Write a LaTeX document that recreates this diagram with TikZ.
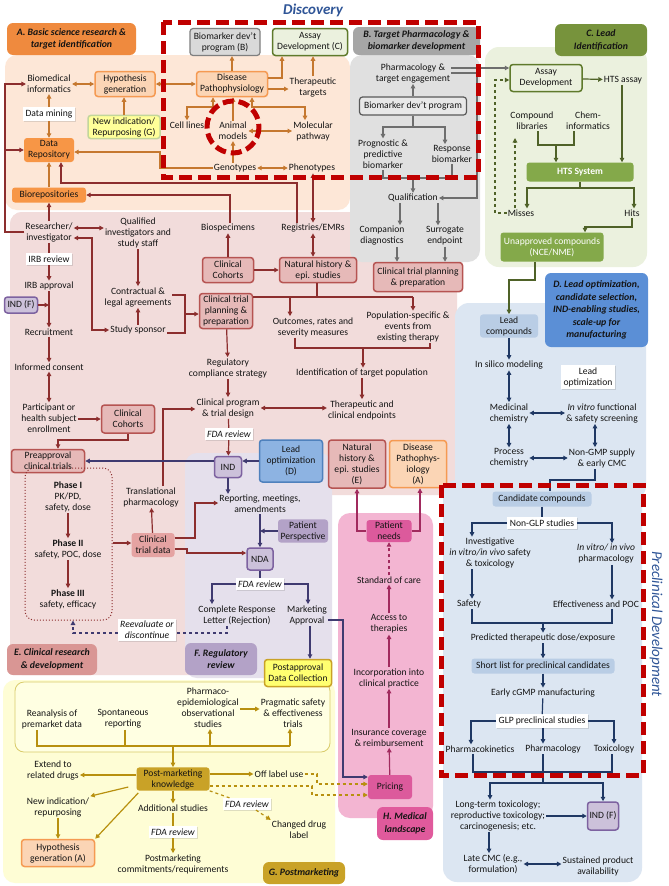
\documentclass[tikz,border=0pt]{standalone}
\usepackage{fontspec}
\setmainfont{Carlito}
\usetikzlibrary{arrows.meta,calc,shadows}
\definecolor{tx}{HTML}{141414}
\definecolor{bgA}{HTML}{FDE7D7}
\definecolor{bgB}{HTML}{E0E0E0}
\definecolor{bgC}{HTML}{EBF1DE}
\definecolor{bgD}{HTML}{DCE6F2}
\definecolor{bgE}{HTML}{F2DCDB}
\definecolor{bgF}{HTML}{E5E0EC}
\definecolor{bgG}{HTML}{FEFDD5}
\definecolor{bgGi}{HTML}{FFFFE2}
\definecolor{bgGd}{HTML}{D9CB6A}
\definecolor{bgH}{HTML}{F3B5D2}
\definecolor{oArr}{HTML}{C5782F}
\definecolor{rArr}{HTML}{8C2E2E}
\definecolor{gArr}{HTML}{6E6E6E}
\definecolor{grArr}{HTML}{4F6228}
\definecolor{nArr}{HTML}{1F3864}
\definecolor{pArr}{HTML}{3F3A70}
\definecolor{yArr}{HTML}{B8900F}
\definecolor{mArr}{HTML}{A12A5E}
\definecolor{oFill}{HTML}{FBD5B5}
\definecolor{oDraw}{HTML}{F59A52}
\definecolor{doFill}{HTML}{F79646}
\definecolor{yFill}{HTML}{FFFF99}
\definecolor{yDraw}{HTML}{C3D69B}
\definecolor{gFill}{HTML}{D9D9D9}
\definecolor{gDraw}{HTML}{7F7F7F}
\definecolor{gFillb}{HTML}{E8E8E8}
\definecolor{gDrawb}{HTML}{595959}
\definecolor{grFill}{HTML}{EBF1DE}
\definecolor{grDraw}{HTML}{5F7A2C}
\definecolor{gnFill}{HTML}{84A94A}
\definecolor{lbFill}{HTML}{B9CDE5}
\definecolor{indFill}{HTML}{CCC1DA}
\definecolor{indDraw}{HTML}{7D62A0}
\definecolor{eFill}{HTML}{E6B9B8}
\definecolor{eDraw}{HTML}{B65452}
\definecolor{ctdFill}{HTML}{E5A3A2}
\definecolor{dbFill}{HTML}{8DB3E2}
\definecolor{dbDraw}{HTML}{4F81BD}
\definecolor{ppFill}{HTML}{B3A2C7}
\definecolor{pyFill}{HTML}{FFFF70}
\definecolor{pyDraw}{HTML}{C9A227}
\definecolor{pmFill}{HTML}{C9A227}
\definecolor{hFill}{HTML}{DC5A9C}
\definecolor{labAc}{HTML}{EF8A3E}
\definecolor{labBc}{HTML}{A6A6A6}
\definecolor{labCc}{HTML}{77933C}
\definecolor{labDc}{HTML}{5B8FD6}
\definecolor{labEc}{HTML}{D99694}
\definecolor{labFc}{HTML}{B3A2C7}
\definecolor{labGc}{HTML}{C9A227}
\definecolor{labHc}{HTML}{E05A9C}
\definecolor{redd}{HTML}{C00000}
\definecolor{blueT}{HTML}{2F5597}
\newcommand{\myfs}{\fontsize{9.6}{11}\selectfont}
\newcommand{\myfsi}{\fontsize{9.6}{11}\selectfont\itshape}
\newcommand{\mylf}{\fontsize{9.8}{12.5}\selectfont\bfseries\itshape}
\begin{document}
\begin{tikzpicture}[x=1pt,y=-1pt,
  >={Triangle[length=4.5pt,width=4.5pt]},
  t/.style={align=center,font=\myfs,text=tx,inner sep=1pt},
  bx/.style={t,rounded corners=3pt,inner sep=2pt},
  obox/.style={bx,fill=oFill,draw=oDraw,line width=1.5pt},
  dobox/.style={bx,fill=doFill},
  wbox/.style={bx,fill=white,rounded corners=0pt,inner sep=2.5pt,drop shadow={opacity=0.25,shadow xshift=1pt,shadow yshift=-1pt}},
  ybox/.style={bx,fill=yFill,draw=yDraw,line width=1.5pt},
  gbox/.style={bx,fill=gFill,draw=gDraw,line width=1.2pt},
  gboxb/.style={bx,fill=gFillb,draw=gDrawb,line width=1.2pt},
  grbox/.style={bx,fill=grFill,draw=grDraw,line width=1.5pt},
  gnbox/.style={bx,fill=gnFill,text=white},
  lbbox/.style={bx,fill=lbFill},
  indbox/.style={bx,fill=indFill,draw=indDraw,line width=1.5pt},
  ebox/.style={bx,fill=eFill,draw=eDraw,line width=1.5pt},
  ctdbox/.style={bx,fill=ctdFill},
  dbbox/.style={bx,fill=dbFill,draw=dbDraw,line width=1.5pt},
  ppbox/.style={bx,fill=ppFill},
  pybox/.style={bx,fill=pyFill,draw=pyDraw,line width=1.5pt},
  pmbox/.style={bx,fill=pmFill},
  hbox/.style={bx,fill=hFill},
  lab/.style={align=center,font=\mylf,text=tx,rounded corners=6pt,inner sep=2pt},
  oa/.style={draw=oArr,line width=1.2pt,->}, oa2/.style={oa,<->}, ol/.style={draw=oArr,line width=1.2pt},
  ra/.style={draw=rArr,line width=1.2pt,->}, ra2/.style={ra,<->}, rl/.style={draw=rArr,line width=1.2pt},
  ga/.style={draw=gArr,line width=1.2pt,->}, gl/.style={draw=gArr,line width=1.2pt},
  gra/.style={draw=grArr,line width=1.2pt,->}, grl/.style={draw=grArr,line width=1.2pt},
  na/.style={draw=nArr,line width=1.2pt,->}, na2/.style={na,<->}, nl/.style={draw=nArr,line width=1.2pt},
  pa/.style={draw=pArr,line width=1.2pt,->}, pl/.style={draw=pArr,line width=1.2pt},
  ya/.style={draw=yArr,line width=1.2pt,->}, yl/.style={draw=yArr,line width=1.2pt},
  ma/.style={draw=mArr,line width=1.2pt,->},
  reddash/.style={draw=redd,line width=5pt,dash pattern=on 13pt off 6pt}
]
\useasboundingbox (0,0) rectangle (669,886);
\fill[white] (0,0) rectangle (669,886);
% ---------- panels ----------
\fill[bgE,rounded corners=12pt] (10,212) rectangle (457,495);
\fill[bgE,rounded corners=12pt] (10,212) rectangle (300,675);
\fill[bgF,rounded corners=12pt] (185,453) rectangle (332,678);
\fill[bgA,rounded corners=12pt] (5,55) rectangle (350,210);
\fill[bgB,rounded corners=12pt] (350,55) rectangle (480,262);
\fill[bgC,rounded corners=14pt] (485,47) rectangle (647,267);
\fill[bgD,rounded corners=14pt] (455,303) rectangle (646,500);
\fill[bgD,rounded corners=14pt] (443,480) rectangle (642,882);
\fill[bgG,rounded corners=12pt] (3,680) rectangle (335,883);
\draw[bgGd,fill=bgGi,line width=0.8pt,rounded corners=9pt] (15,682) rectangle (330,752);
\fill[bgH,rounded corners=12pt] (338,513) rectangle (433,818);
% ---------- panel labels ----------
\node[lab,fill=labAc,minimum width=129,minimum height=32] (labA) at (71.5,39) {A. Basic science research \&\\target identification};
\node[lab,fill=labBc,minimum width=127,minimum height=28] (labB) at (416.5,41) {B. Target Pharmacology \&\\biomarker development};
\node[lab,fill=labCc,minimum width=92,minimum height=32] (labC) at (601,40) {C. Lead\\Identification};
\node[lab,fill=labDc,minimum width=103,minimum height=74] (labD) at (596.5,310) {D. Lead optimization,\\candidate selection,\\IND-enabling studies,\\scale-up for\\manufacturing};
\node[lab,fill=labEc,minimum width=90,minimum height=31] (labE) at (52,659.5) {E. Clinical research\\\& development};
\node[lab,fill=labFc,minimum width=72,minimum height=32] (labF) at (221,659) {F. Regulatory\\review};
\node[lab,fill=labGc,minimum width=82,minimum height=22] (labG) at (304,873) {G. Postmarketing};
\node[lab,fill=labHc,minimum width=56,minimum height=33] (labH) at (405,823.5) {H. Medical\\landscape};
% ---------- A ----------
\node[t] (bioinf) at (49,84) {Biomedical\\informatics};
\node[obox,minimum width=60,minimum height=25] (hyp) at (125,84) {Hypothesis\\generation};
\node[wbox] (dmine) at (49,114) {Data mining};
\node[ybox,minimum width=72,minimum height=23] (newind) at (124,127) {New indication/\\Repurposing (G)};
\node[dobox,minimum width=50,minimum height=24] (drepo) at (49,150) {Data\\Repository};
\node[dobox,minimum width=74,minimum height=15] (biorep) at (49,195) {Biorepositories};
\node[obox,minimum width=71,minimum height=25] (patho) at (232,84) {Disease\\Pathophysiology};
\node[gbox,minimum width=70,minimum height=27] (bmB) at (225,42) {Biomarker dev't\\program (B)};
\node[grbox,minimum width=75,minimum height=27] (assayC) at (310,42) {Assay\\Development (C)};
\node[t] (thert) at (313,87) {Therapeutic\\targets};
\node[t] (cell) at (187,125) {Cell lines};
\node[t] (animal) at (233,131) {Animal\\models};
\node[t] (molp) at (313,131) {Molecular\\pathway};
\node[t] (geno) at (235,168) {Genotypes};
\node[t] (pheno) at (312,168) {Phenotypes};
% ---------- B ----------
\node[t] (pharm) at (413,73) {Pharmacology \&\\target engagement};
\node[gboxb,minimum width=107,minimum height=18] (bmprog) at (413,106) {Biomarker dev't program};
\node[t] (prog) at (383,154) {Prognostic \&\\predictive\\biomarker};
\node[t] (resp) at (452,154) {Response\\biomarker};
\node[t] (qual) at (413,198) {Qualification};
\node[t] (comp) at (382,236) {Companion\\diagnostics};
\node[t] (surr) at (445,236) {Surrogate\\endpoint};
\node[ebox,minimum width=89,minimum height=29] (ctpB) at (418,277) {Clinical trial planning\\\& preparation};
% ---------- C ----------
\node[grbox,minimum width=72,minimum height=27] (assay) at (546,78) {Assay\\Development};
\node[t] (htsa) at (623,80) {HTS assay};
\node[t] (clib) at (532,121) {Compound\\libraries};
\node[t] (chem) at (588,121) {Chem-\\informatics};
\node[gnbox,minimum width=107,minimum height=19,font=\myfs\bfseries] (hts) at (580,172) {HTS System};
\node[t] (miss) at (521,213) {Misses};
\node[t] (hits) at (632,213) {Hits};
\node[gnbox,minimum width=103,minimum height=29] (unap) at (552,247) {Unapproved compounds\\(NCE/NME)};
% ---------- D ----------
\node[lbbox,minimum width=58,minimum height=22] (leadc) at (509,326) {Lead\\compounds};
\node[t] (insil) at (509,365) {In silico modeling};
\node[wbox] (leadopt) at (588,377) {Lead\\optimization};
\node[t] (medc) at (509,413) {Medicinal\\chemistry};
\node[t] (invit) at (602,413) {\textit{In vitro} functional\\\& safety screening};
\node[t] (proc) at (509,458) {Process\\chemistry};
\node[t] (ngmp) at (602,458) {Non-GMP supply\\\& early CMC};
\node[lbbox,minimum width=99,minimum height=15] (cand) at (542,499) {Candidate compounds};
\node[wbox] (nglp) at (542,523) {Non-GLP studies};
\node[t] (invest) at (490,553) {Investigative\\\textit{in vitro/in vivo} safety\\\& toxicology};
\node[t] (invpharm) at (606,554) {\textit{In vitro/ in vivo}\\pharmacology};
\node[t] (safety) at (469,604) {Safety};
\node[t] (effpoc) at (596,604) {Effectiveness and POC};
\node[t] (pred) at (543,638) {Predicted therapeutic dose/exposure};
\node[lbbox,minimum width=143,minimum height=15] (short) at (543,666) {Short list for preclinical candidates};
\node[t] (ecgmp) at (543,693) {Early cGMP manufacturing};
\node[wbox] (glp) at (542,721) {GLP preclinical studies};
\node[t] (pk) at (480,749) {Pharmacokinetics};
\node[t] (pharmD) at (553,749) {Pharmacology};
\node[t] (tox) at (614,749) {Toxicology};
\node[t] (ltt) at (498,816) {Long-term toxicology;\\reproductive toxicology;\\carcinogenesis; etc.};
\node[indbox,minimum width=31,minimum height=28] (indF2) at (603,816) {IND (F)};
\node[t] (lcmc) at (493,864) {Late CMC (e.g.,\\formulation)};
\node[t] (spa) at (598,866) {Sustained product\\availability};
% ---------- E ----------
\node[t] (res) at (49,232) {Researcher/\\investigator};
\node[t] (qinv) at (138,233) {Qualified\\investigators and\\study staff};
\node[wbox] (irbr) at (49,259) {IRB review};
\node[t] (irba) at (49,286) {IRB approval};
\node[indbox,minimum width=33,minimum height=16] (indF1) at (21,305) {IND (F)};
\node[t] (recr) at (49,332) {Recruitment};
\node[t] (icons) at (49,367) {Informed consent};
\node[t] (part) at (49,418) {Participant or\\health subject\\enrollment};
\node[ebox,minimum width=53,minimum height=28] (ccoh1) at (128,419) {Clinical\\Cohorts};
\node[ebox,minimum width=73,minimum height=23] (preap) at (48,461) {Preapproval\\clinical trials};
\node[t] (contr) at (138,297) {Contractual \&\\legal agreements};
\node[t] (spon) at (138,330) {Study sponsor};
\node[ebox,minimum width=53,minimum height=35] (ctpE) at (226,311) {Clinical trial\\planning \&\\preparation};
\node[t] (biospec) at (228,228) {Biospecimens};
\node[ebox,minimum width=51,minimum height=25] (ccoh2) at (228,270) {Clinical\\Cohorts};
\node[t] (reg) at (313,228) {Registries/EMRs};
\node[ebox,minimum width=77,minimum height=25] (nath) at (318,270) {Natural history \&\\epi. studies};
\node[t] (outc) at (313,327) {Outcomes, rates and\\severity measures};
\node[t] (popsp) at (408,327) {Population-specific \&\\events from\\existing therapy};
\node[t] (ident) at (362,373) {Identification of target population};
\node[t] (therep) at (362,410) {Therapeutic and\\clinical endpoints};
\node[t] (regcs) at (228,368) {Regulatory\\compliance strategy};
\node[t] (cprog) at (228,408) {Clinical program\\\& trial design};
\node[wbox,font=\myfsi] (fda1) at (229,434) {FDA review};
\node[indbox,minimum width=27,minimum height=21] (ind) at (228,467) {IND};
\node[dbbox,minimum width=63,minimum height=42] (leadD) at (291,461) {Lead\\optimization\\(D)};
\node[ebox,minimum width=57,minimum height=48] (nathE) at (357,464) {Natural\\history \&\\epi. studies\\(E)};
\node[obox,minimum width=57,minimum height=47] (pathoA) at (418,464) {Disease\\Pathophys-\\iology\\(A)};
\node[t] (trans) at (151,497) {Translational\\pharmacology};
\node[ctdbox,minimum width=43,minimum height=24] (ctd) at (153,545) {Clinical\\trial data};
\node[draw=rArr,dotted,line width=1pt,rounded corners=9pt,minimum width=87,minimum height=152] (phases) at (68.5,544) {};
\node[t] (ph1) at (68,497) {\textbf{Phase I}\\PK/PD,\\safety, dose};
\node[t] (ph2) at (68,549) {\textbf{Phase II}\\safety, POC, dose};
\node[t] (ph3) at (68,599) {\textbf{Phase III}\\safety, efficacy};
% ---------- F ----------
\node[t] (rep) at (260,504) {Reporting, meetings,\\amendments};
\node[ppbox,minimum width=50,minimum height=23] (ppers) at (303,531) {Patient\\Perspective};
\node[indbox,minimum width=26,minimum height=22] (nda) at (260,559) {NDA};
\node[wbox,font=\myfsi] (fda2) at (260,584) {FDA review};
\node[t] (crl) at (237,615) {Complete Response\\Letter (Rejection)};
\node[t] (mapp) at (307,615) {Marketing\\Approval};
\node[wbox,font=\myfsi] (reev) at (147,630) {Reevaluate or\\discontinue};
\node[pybox,minimum width=67,minimum height=27] (postap) at (298,673) {Postapproval\\Data Collection};
% ---------- G ----------
\node[t] (rean) at (52,719) {Reanalysis of\\premarket data};
\node[t] (spont) at (123,719) {Spontaneous\\reporting};
\node[t] (pharmepi) at (208,708) {Pharmaco-\\epidemiological\\observational\\studies};
\node[t] (pragm) at (293,713) {Pragmatic safety\\\& effectiveness\\trials};
\node[pmbox,minimum width=73,minimum height=23] (pmk) at (173,779) {Post-marketing\\knowledge};
\node[t] (ext) at (53,770) {Extend to\\related drugs};
\node[t] (offl) at (279,774) {Off label use};
\node[t] (newind2) at (58,807) {New indication/\\repurposing};
\node[obox,minimum width=73,minimum height=27] (hypA) at (58,853) {Hypothesis\\generation (A)};
\node[t] (addst) at (173,808) {Additional studies};
\node[wbox,font=\myfsi] (fda3) at (173,832) {FDA review};
\node[t] (pmc) at (173,864) {Postmarketing\\commitments/requirements};
\node[wbox,font=\myfsi] (fda4) at (247,804) {FDA review};
\node[t] (chl) at (299,830) {Changed drug\\label};
% ---------- H ----------
\node[hbox,minimum width=45,minimum height=22] (pneeds) at (389,531) {Patient\\needs};
\node[t] (stdc) at (389,580) {Standard of care};
\node[t] (access) at (389,624) {Access to\\therapies};
\node[t] (incorp) at (389,678) {Incorporation into\\clinical practice};
\node[t] (insur) at (389,738) {Insurance coverage\\\& reimbursement};
\node[hbox,minimum width=44,minimum height=24] (pricing) at (390,787) {Pricing};
% ---------- arrows A ----------
\draw[oa2] (bioinf.east) -- (hyp.west);
\draw[oa2] (hyp.east) -- (patho.west);
\draw[oa] (dmine) -- (bioinf);
\draw[oa] (dmine) -- (drepo);
\draw[oa] (newind.north) -- (newind.north |- hyp.south);
\draw[oa] (biorep) -- (drepo);
\draw[oa] (geno.west) -- (160,168) -- (160,152) -- (drepo.east |- 160,152);
\draw[oa] (patho.north) -- (patho.north |- bmB.south);
\draw[oa] (patho.east |- 0,78) -- (282,78) -- (282,0 |- assayC.south);
\draw[oa] (patho.east |- 0,89) -- (thert.west |- 0,89);
\draw[oa] (thert.north) -- (thert.north |- assayC.south);
\draw[oa2] (cell.north) -- (187,107) -- (213,107) -- (213,0 |- patho.south);
\draw[oa] (animal.north) -- (animal.north |- patho.south);
\draw[oa2] (252,0 |- patho.south) -- (252,107) -- (305,107) -- (305,0 |- molp.north);
\draw[oa2] (animal.east) -- (molp.west |- animal.east);
\draw[oa] (233,0 |- geno.north) -- (233,0 |- animal.south);
\draw[oa2] (geno.east) -- (pheno.west);
\draw[ra2] (313,0 |- pheno.south) -- (313,0 |- reg.north);
\draw[ra] (297,0 |- reg.north) -- (297,183) -- (61,183) -- (61,0 |- drepo.south);
\draw[ra] (230,0 |- biospec.north) -- (230,195) -- (biorep.east);
\draw[ra] (res.north) -- (biorep.south);
\draw[ra] (res.west) -- (5,232) -- (5,84) -- (bioinf.west);
\draw[ra] (5,150) -- (drepo.west);
% ---------- arrows B ----------
\draw[ga] (bmprog.north) -- (bmprog.north |- pharm.south);
\draw[ga] (bmprog.south) -- (413,127) -- (383,127) -- (383,0 |- prog.north);
\draw[ga] (413,127) -- (445,127) -- (445,0 |- resp.north);
\draw[gl] (383,0 |- prog.south) -- (383,178) -- (452,178) -- (452,0 |- resp.south);
\draw[ga] (413,178) -- (qual.north);
\draw[ga] (pharm.east |- 0,68) -- (assay.west |- 0,68);
\draw[ga] (pharm.east |- 0,73) -- (477,73) -- (477,198) -- (qual.east);
\draw[ga] (400,0 |- qual.south) -- (400,0 |- comp.north);
\draw[ga] (438,0 |- qual.south) -- (438,0 |- surr.north);
\draw[ga] (397,0 |- comp.south) -- (397,0 |- ctpB.north);
\draw[ga] (445,0 |- surr.south) -- (445,0 |- ctpB.north);
% ---------- arrows C ----------
\draw[gra] (assay) -- (htsa);
\draw[gra] (622,0 |- htsa.south) -- (622,0 |- hts.north);
\draw[grl] (538,0 |- clib.south) -- (538,145) -- (574,145) -- (574,0 |- chem.south);
\draw[gra] (556,145) -- (556,0 |- hts.north);
\draw[gra] (580,0 |- hts.south) -- (580,188) -- (527,188) -- (527,0 |- miss.north);
\draw[gra] (580,188) -- (634,188) -- (634,0 |- hits.north);
\draw[gra,dashed] (515,0 |- miss.north) -- (515,138);
\draw[gra,dashed] (miss.west) -- (495,0 |- miss.west) -- (495,80) -- (assay.west |- 0,80);
\draw[gra] (632,0 |- hits.south) -- (632,227) -- (585,227) -- (585,0 |- unap.north);
\draw[gra] (535,0 |- unap.south) -- (535,280) -- (509,280) -- (leadc.north);
% ---------- arrows D ----------
\draw[na] (leadc) -- (insil);
\draw[na2] (insil) -- (medc);
\draw[na2] (medc.east) -- (invit.west |- medc.east);
\draw[na2] (medc) -- (proc);
\draw[na2] (595,0 |- invit.south) -- (595,0 |- ngmp.north);
\draw[na2] (proc.east) -- (ngmp.west |- proc.east);
\draw[nl] (595,0 |- ngmp.south) -- (595,480) -- (550,480) -- (550,0 |- cand.north);
\draw[nl] (cand) -- (nglp);
\draw[na] (nglp.west) -- (472,523) -- (472,0 |- invest.north);
\draw[na] (nglp.east) -- (612,523) -- (612,0 |- invpharm.north);
\draw[na] (472,0 |- invest.south) -- (472,0 |- safety.north);
\draw[na] (612,0 |- invpharm.south) -- (612,0 |- effpoc.north);
\draw[nl] (472,0 |- safety.south) -- (472,623) -- (612,623) -- (612,0 |- effpoc.south);
\draw[na] (543,623) -- (pred.north);
\draw[na] (pred) -- (short);
\draw[na] (short) -- (ecgmp);
\draw[nl] (ecgmp) -- (glp);
\draw[na] (glp.west) -- (471,721) -- (471,0 |- pk.north);
\draw[na] (543,0 |- glp.south) -- (543,0 |- pharmD.north);
\draw[na] (glp.east) -- (614,721) -- (614,0 |- tox.north);
\draw[nl] (473,0 |- pk.south) -- (473,772) -- (612,772) -- (612,0 |- tox.south);
\draw[nl] (543,0 |- pharmD.south) -- (543,783);
\draw[na] (543,783) -- (490,783) -- (490,0 |- ltt.north);
\draw[na] (543,783) -- (603,783) -- (indF2.north);
\draw[na] (ltt.east |- indF2.west) -- (indF2.west);
\draw[na] (489,0 |- ltt.south) -- (489,0 |- lcmc.north);
\draw[na2] (lcmc.east) -- (spa.west |- lcmc.east);
% ---------- arrows E ----------
\draw[ra2] (res.east |- 0,228) -- (qinv.west |- 0,228);
\draw[rl] (res) -- (irbr);
\draw[ra] (irbr) -- (irba);
\draw[ra] (irba) -- (recr);
\draw[ra] (indF1.east) -- (irba.south |- indF1.east);
\draw[ra] (recr) -- (icons);
\draw[ra2] (icons) -- (part);
\draw[ra] (part.east |- ccoh1.west) -- (ccoh1.west);
\draw[ra] (ccoh1.south) -- (128,440) -- (58,440) -- (58,0 |- preap.north);
\draw[ra] (qinv) -- (contr);
\draw[ra] (spon) -- (contr);
\draw[ra2] (res.east |- 0,238) -- (92,238) -- (92,330) -- (spon.west);
\draw[rl] (contr.east |- 0,295) -- (185,295) -- (185,333) -- (spon.east |- 0,333);
\draw[ra] (185,314) -- (ctpE.west |- 0,314);
\draw[ra] (ccoh2) -- (biospec);
\draw[ra] (ccoh2) -- (nath);
\draw[ra2] (313,0 |- reg.south) -- (313,0 |- nath.north);
\draw[rl] (317,0 |- nath.south) -- (317,297);
\draw[rl] (ctpE.east |- 0,297) -- (413,297);
\draw[ra] (290,297) -- (290,0 |- outc.north);
\draw[ra] (413,297) -- (413,0 |- popsp.north);
\draw[rl] (295,0 |- outc.south) -- (295,348) -- (430,348) -- (430,0 |- popsp.south);
\draw[ra] (363,348) -- (363,0 |- ident.north);
\draw[ra] (ident) -- (therep);
\draw[ra] (ctpE) -- (regcs);
\draw[ra] (regcs) -- (cprog);
\draw[ra2] (cprog.east) -- (therep.west |- cprog.east);
\draw[rl] (cprog) -- (fda1);
\draw[ra] (fda1) -- (ind);
\draw[ra] (163,0 |- trans.north) -- (163,409) -- (cprog.west |- 0,409);
\draw[ra] (ctd) -- (trans);
\draw[ra] (phases.east |- 0,543) -- (ctd.west |- 0,543);
\draw[ra] (ph1) -- (ph2);
\draw[ra] (ph2) -- (ph3);
\draw[ra] (ctd.east |- 0,538) -- (195,538) -- (195,503) -- (rep.west |- 0,503);
\draw[ra] (ctd.east |- 0,549) -- (187,549) -- (187,553) -- (nda.west |- 0,553);
% ---------- arrows F ----------
\draw[pa] (leadD.west) -- (leadD.west -| ind.east);
\draw[pa] (ind.west |- 0,461) -- (preap.east |- 0,461);
\draw[pa] (ind.south) -- (ind.south |- rep.north);
\draw[pa] (260,0 |- rep.south) -- (nda.north);
\draw[pa] (ppers.west) -- (ppers.west -| nda.north);
\draw[pl] (nda) -- (fda2);
\draw[pa] (fda2.west) -- (212,584) -- (212,0 |- crl.north);
\draw[pa] (fda2.east) -- (308,584) -- (308,0 |- mapp.north);
\draw[pa] (310,0 |- mapp.south) -- (310,0 |- postap.north);
\draw[pa] (mapp.east |- 0,620) -- (343,620) -- (343,777) -- (pricing.west |- 0,777);
\draw[pl,dashed] (227,0 |- crl.south) -- (227,633) -- (reev.east |- 0,633);
\draw[pa,dashed] (reev.west |- 0,633) -- (73,633) -- (73,0 |- phases.south);
% ---------- arrows G ----------
\draw[ya] (pharmepi.east |- 0,709) -- (pragm.west |- 0,709);
\draw[yl] (37,0 |- rean.south) -- (37,746) -- (290,746);
\draw[yl] (125,0 |- spont.south) -- (125,746);
\draw[ya] (210,746) -- (210,0 |- pharmepi.south);
\draw[ya] (290,746) -- (290,0 |- pragm.south);
\draw[ya] (173,746) -- (pmk.north);
\draw[ya] (pmk.west |- 0,775) -- (ext.east |- 0,775);
\draw[ya] (pmk.east |- offl.west) -- (offl.west);
\draw[ya] ($(pmk.west)+(-8,8)$) -- (newind2.north east);
\draw[ya] ($(pmk.south west)+(2,2)$) -- (hypA.north east);
\draw[ya] (newind2) -- (hypA);
\draw[ya] (pmk) -- (addst);
\draw[yl] (addst) -- (fda3);
\draw[ya] (fda3) -- (pmc);
\draw[yl,dashed] (pmk.south east) -- (fda4);
\draw[ya,dashed] (fda4) -- (chl.north west);
\draw[ya,dashed] (offl.east) -- (317,0 |- offl.east) -- (317,784) -- (pricing.west |- 0,784);
\draw[ya,dashed] (pmk.east |- 0,786) -- (312,786) -- (312,795) -- (pricing.west |- 0,795);
% ---------- arrows H ----------
\draw[ma] (pneeds.west) -- (357,0 |- pneeds.west) -- (357,0 |- nathE.south);
\draw[ma] (pneeds.east) -- (420,0 |- pneeds.east) -- (420,0 |- pathoA.south);
\draw[ma,dashed] (stdc) -- (pneeds);
\draw[ma] (access) -- (stdc);
\draw[ma] (incorp) -- (access);
\draw[ma] (insur) -- (incorp);
\draw[ma] (pricing) -- (insur);
% ---------- frames and titles ----------
\draw[reddash] (163,22) rectangle (478,177);
\draw[reddash] (441,485) rectangle (643,775);
\draw[draw=redd,line width=5pt,dash pattern=on 11pt off 5pt] (233,127) circle (26);
\node[font=\fontsize{15}{18}\selectfont\bfseries\itshape,text=blueT] (disc) at (313,10) {Discovery};
\node[font=\fontsize{15}{18}\selectfont\itshape,text=blueT,rotate=-90] (precl) at (656,624) {Preclinical Development};
\end{tikzpicture}
\end{document}
